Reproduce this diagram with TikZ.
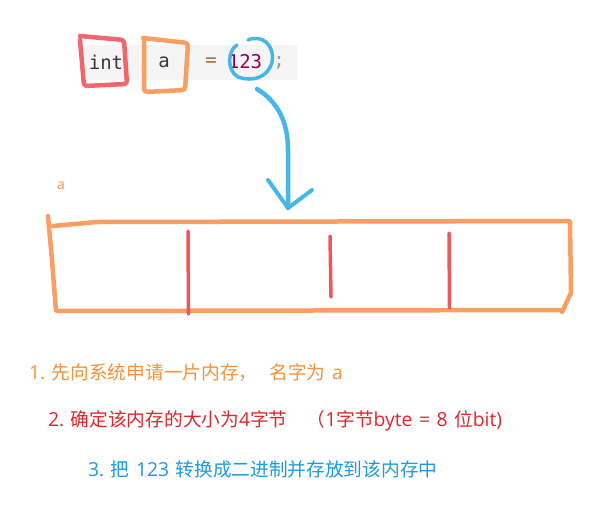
\documentclass[tikz,border=0pt]{standalone}
\usepackage{fontspec}
\newfontfamily\cjk{Noto Sans CJK SC}
\newfontfamily\latfont{Open Sans}
\newfontfamily\codefont{DejaVu Sans Mono}
\newcommand{\lat}[1]{{\latfont\fontsize{19.3}{22}\selectfont #1}}
\newcommand{\gap}{\hspace{6.5pt}}
\definecolor{hlorange}{HTML}{FA9E62}
\definecolor{hlred}{HTML}{F0575D}
\definecolor{hlblue}{HTML}{45B7E9}
\definecolor{txtorange}{HTML}{F7913A}
\definecolor{txtred}{HTML}{E6232B}
\definecolor{txtblue}{HTML}{1A9BDF}
\definecolor{codebg}{HTML}{F5F5F5}
\definecolor{codeplain}{HTML}{383838}
\definecolor{codeop}{HTML}{9A6E3A}
\definecolor{codenum}{HTML}{990055}
\definecolor{codepunct}{HTML}{999999}
\tikzset{
  codetok/.style={font=\codefont\fontsize{19}{22}\selectfont, inner sep=0pt, anchor=center},
  note/.style={font=\cjk\fontsize{18.7}{22}\selectfont, inner sep=0pt, anchor=west},
  pen/.style={line width=4.5pt, line cap=round, line join=round, rounded corners=3pt},
  thinpen/.style={line width=3.5pt, line cap=round, line join=round},
}
\begin{document}
\begin{tikzpicture}[x=1pt,y=-1pt]
\useasboundingbox (0,0) rectangle (593,515);
% code line background
\fill[codebg] (82,45) rectangle (297,80);
\node[codetok, text=codeplain] (kw) at (106,62) {int};
\node[codetok, text=codeplain] (var) at (164,62) {a};
\node[codetok, text=codeop] (eq) at (211,62) {=};
\node[codetok, text=codenum] (num) at (245,62) {123};
\node[codetok, text=codepunct] (semi) at (279,63) {;};
% hand-drawn highlights
\draw[pen, hlred, opacity=0.9] (80,36) -- (124,40) -- (127,84) -- (84,86) -- (80,40);
\draw[pen, hlorange] (143,38) -- (188,43) -- (185,90) -- (144,92) -- (144,40);
\draw[thinpen, hlblue] (237,45) .. controls (228,50) and (226,70) .. (238,77)
  .. controls (252,82) and (268,78) .. (272,62)
  .. controls (275,45) and (262,34) .. (248,40);
% arrow
\coordinate (arrowstart) at (257,89);
\coordinate (arrowtip) at (288,208);
\draw[thinpen, hlblue, line width=4.5pt] (arrowstart) .. controls (278,102) and (288,122) .. (288,150) -- (arrowtip);
\draw[thinpen, hlblue, line width=4pt] (268,180) -- (arrowtip) -- (312,190);
% memory block
\node[font=\latfont\fontsize{14}{17}\selectfont, text=txtorange, inner sep=0pt] (lbl) at (61,186) {a};
\draw[pen, hlorange, rounded corners=1pt] (53,226) -- (97,222) -- (570,221) -- (571,293) -- (562,312);
\draw[pen, hlorange, rounded corners=1pt] (48,216) -- (52,260) -- (56,311) -- (560,310);
\draw[thinpen, hlred, line width=3.5pt] (188,231) -- (188.5,314);
\draw[thinpen, hlred, line width=3.5pt] (330,236) -- (331,297);
\draw[thinpen, hlred, line width=3.5pt] (449,233) -- (449.5,308);
% notes
\node[note, text=txtorange] (s1) at (29,373) {\lat{1.}\gap 先向系统申请一片内存，\hspace{12pt}名字为\gap\lat{a}};
\node[note, text=txtred] (s2) at (48,421) {\lat{2.}\gap 确定该内存的大小为\lat{4}字节\hspace{19pt}（\lat{1}字节\lat{byte}\gap\lat{=}\gap\lat{8}\gap 位\lat{bit)}};
\node[note, text=txtblue] (s3) at (88,469) {\lat{3.}\gap 把\gap\lat{123}\gap 转换成二进制并存放到该内存中};
\end{tikzpicture}
\end{document}
